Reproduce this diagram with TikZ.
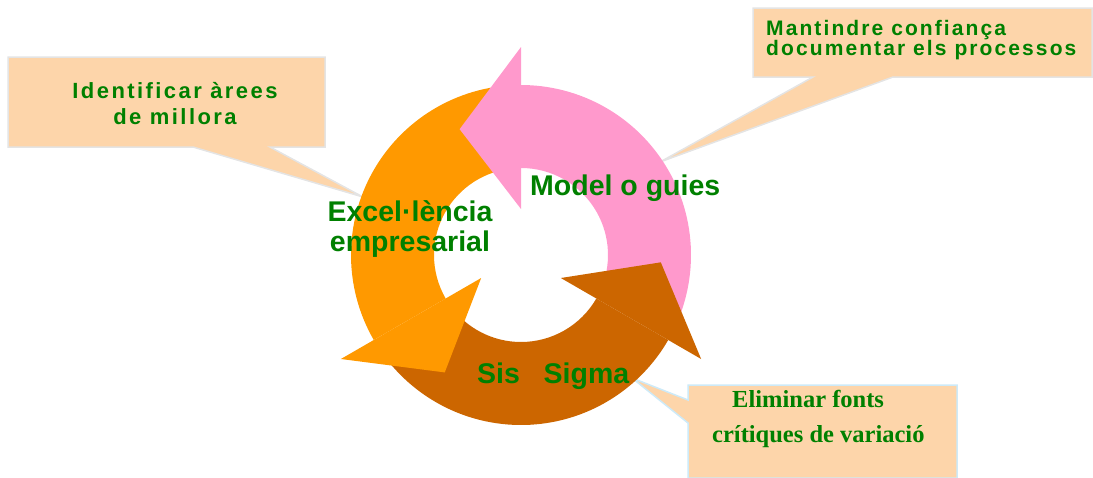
\documentclass[tikz,border=0pt]{standalone}
\usepackage{fontspec}
\setmainfont{Liberation Sans}
\newfontfamily\spacedfontA[LetterSpace=11]{Liberation Sans}
\newfontfamily\spacedfontB[LetterSpace=10]{Liberation Sans}
\newfontfamily\serifbold{Liberation Serif}
\definecolor{peach}{HTML}{FDD5AA}
\definecolor{calloutgray}{HTML}{E4E4E4}
\definecolor{calloutblue}{HTML}{CDEAF8}
\definecolor{labelgreen}{HTML}{008000}
\definecolor{pinkarrow}{HTML}{FF99CC}
\definecolor{orangearrow}{HTML}{FF9900}
\definecolor{brownarrow}{HTML}{CC6600}
\begin{document}
\begin{tikzpicture}[x=1pt,y=-1pt,
  callout/.style={fill=peach, draw=calloutgray, line width=1.5pt, line join=miter},
  calloutb/.style={fill=peach, draw=calloutblue, line width=1.5pt, line join=miter},
  ringtext/.style={text=labelgreen, font=\fontsize{28.5}{32}\selectfont\bfseries, inner sep=0pt},
  calltext/.style={text=labelgreen, inner sep=0pt}]
\useasboundingbox (0,0) rectangle (1093,477);

% ---- callouts ----
\coordinate (tipA) at (363,197);
\coordinate (tipB) at (660,162);
\coordinate (tipC) at (632,378);
\path[callout] (8,57) -- (325,57) -- (325,147) -- (270,147) -- (tipA) -- (193,147) -- (8,147) -- cycle;
\path[callout] (753,8) -- (1092,8) -- (1092,77) -- (893,77) -- (tipB) -- (813,77) -- (753,77) -- cycle;
\path[calloutb] (688,385) -- (957,385) -- (957,478) -- (688,478) -- (688,423) -- (tipC) -- (688,400) -- cycle;

% ---- ring of arrows ----
\begin{scope}[shift={(521,255)}, yscale=-1]
  % bodies
  \fill[pinkarrow] (-25:170) arc[start angle=-25, end angle=90, radius=170] -- (90:87) arc[start angle=90, end angle=-25, radius=87] -- cycle;
  \fill[orangearrow] (95:170) arc[start angle=95, end angle=210, radius=170] -- (210:87) arc[start angle=210, end angle=95, radius=87] -- cycle;
  \fill[brownarrow] (215:170) arc[start angle=215, end angle=330, radius=170] -- (330:87) arc[start angle=330, end angle=215, radius=87] -- cycle;
  % heads
  \fill[pinkarrow] (90:46) -- (90:208) -- (116:140) -- cycle;
  \fill[orangearrow] (210:46) -- (210:208) -- (237:140) -- cycle;
  \fill[brownarrow] (330:46) -- (330:208) -- (357:140) -- cycle;
\end{scope}

% ---- ring labels ----
\node[ringtext, anchor=base west] (model) at (530,195) {Model o guies};
\node[ringtext, align=center] (excel) at (410,229) {Excel·lència\\[-2pt]empresarial};
\node[ringtext, anchor=base west] (sigma) at (477,383) {Sis~~~Sigma};

% ---- callout texts ----
\node[calltext, align=center, font=\spacedfontA\fontsize{22}{26}\selectfont\bfseries] (ident) at (175,104) {Identificar àrees\\de millora};
\node[calltext, align=left, anchor=west, font=\spacedfontB\fontsize{21}{20}\selectfont\bfseries] (mant) at (766,40) {Mantindre confiança\\documentar els processos};
\node[calltext, align=left, anchor=west, font=\serifbold\fontsize{24.5}{35}\selectfont\bfseries] (elim) at (712,419) {\hspace*{20pt}Eliminar fonts\\crítiques de variació};
\end{tikzpicture}
\end{document}
